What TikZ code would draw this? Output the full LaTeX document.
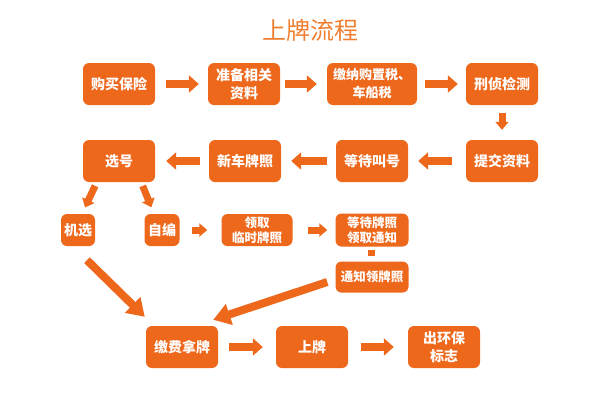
\documentclass[tikz,border=0pt]{standalone}
\usepackage{fontspec}
\setmainfont{Noto Sans CJK SC}
\usetikzlibrary{arrows.meta,calc}
\definecolor{og}{RGB}{238,104,28}
\definecolor{tg}{RGB}{240,126,48}
\begin{document}
\begin{tikzpicture}[x=1pt,y=-1pt,
 box/.style={fill=og,rounded corners=6pt,text=white,align=center,inner sep=0pt,
   minimum width=72pt,minimum height=42pt,font=\fontsize{14}{18}\selectfont\bfseries},
 sbox/.style={box,minimum height=32pt,font=\fontsize{12.5}{15}\selectfont\bfseries},
 blk/.style={draw=og,line width=8pt,-{Triangle[width=17pt,length=10pt]}},
 sblk/.style={draw=og,line width=7pt,-{Triangle[width=13pt,length=8pt]}},
 big/.style={draw=og,line width=8pt,-{Triangle[width=21pt,length=17pt]}}]
\useasboundingbox (0,0) rectangle (599,400);
\node[text=tg,font=\fontsize{24}{28}\selectfont] (title) at (310,30) {上牌流程};
% row 1
\node[box] (n1) at (119,84) {购买保险};
\node[box] (n2) at (244,84) {准备相关\\资料};
\node[box,minimum width=90pt,font=\fontsize{13}{18}\selectfont\bfseries] (n3) at (372,84) {缴纳购置税、\\车船税};
\node[box] (n4) at (502,84) {刑侦检测};
% row 2
\node[box] (n5) at (502,161) {提交资料};
\node[box] (n6) at (372,161) {等待叫号};
\node[box] (n7) at (245,161) {新车牌照};
\node[box] (n8) at (119,161) {选号};
% row 3
\node[sbox,minimum width=34pt,font=\fontsize{14}{17}\selectfont\bfseries] (n9) at (78,230) {机选};
\node[sbox,minimum width=35pt,font=\fontsize{14}{17}\selectfont\bfseries] (n10) at (162,230) {自编};
\node[sbox,minimum width=71pt] (n11) at (257,230) {领取\\临时牌照};
\node[sbox,minimum width=73pt,minimum height=33pt] (n12) at (372,230) {等待牌照\\领取通知};
\node[sbox,minimum width=73pt,minimum height=31pt] (n13) at (372,277) {通知领牌照};
% row 4
\node[box] (n14) at (182,347) {缴费拿牌};
\node[box] (n15) at (312,347) {上牌};
\node[box] (n16) at (444,347) {出环保\\标志};
% arrows row 1
\draw[blk,shorten <=11pt,shorten >=9pt] (n1.east) -- (n2.west);
\draw[blk,shorten <=5pt,shorten >=10pt] (n2.east) -- (n3.west);
\draw[blk,shorten <=8pt,shorten >=8pt] (n3.east) -- (n4.west);
\draw[sblk,shorten <=8pt,shorten >=10pt] (n4.south) -- (n5.north);
% arrows row 2
\draw[blk,shorten <=14pt,shorten >=10pt] (n5.west) -- (n6.east);
\draw[blk,shorten <=9pt,shorten >=10pt] (n6.west) -- (n7.east);
\draw[blk,shorten <=9pt,shorten >=11pt] (n7.west) -- (n8.east);
% from 选号
\draw[sblk,shorten <=4pt,shorten >=7pt] ($(n8.south west)+(14,0)$) -- ($(n9.north)+(4,0)$);
\draw[sblk,shorten <=4pt,shorten >=7pt] ($(n8.south east)+(-14,0)$) -- ($(n10.north)+(-8,0)$);
% row 3
\draw[sblk,shorten <=12pt,shorten >=14pt] (n10.east) -- (n11.west);
\draw[sblk,shorten <=15pt,shorten >=8pt] (n11.east) -- (n12.west);
\draw[og,line width=7pt,shorten <=3pt,shorten >=5pt] ($(n12.south)+(-1,0)$) -- ($(n13.north)+(-1,0)$);
% long arrows
\draw[big] ($(n9.south)+(9,14)$) -- ($(n14.north west)+(-1,-9)$);
\draw[big] ($(n13.west)+(-8,5)$) -- ($(n14.north east)+(-5,-6)$);
% row 4
\draw[blk,shorten <=11pt,shorten >=13pt] (n14.east) -- (n15.west);
\draw[blk,shorten <=13pt,shorten >=14pt] (n15.east) -- (n16.west);
\end{tikzpicture}
\end{document}
